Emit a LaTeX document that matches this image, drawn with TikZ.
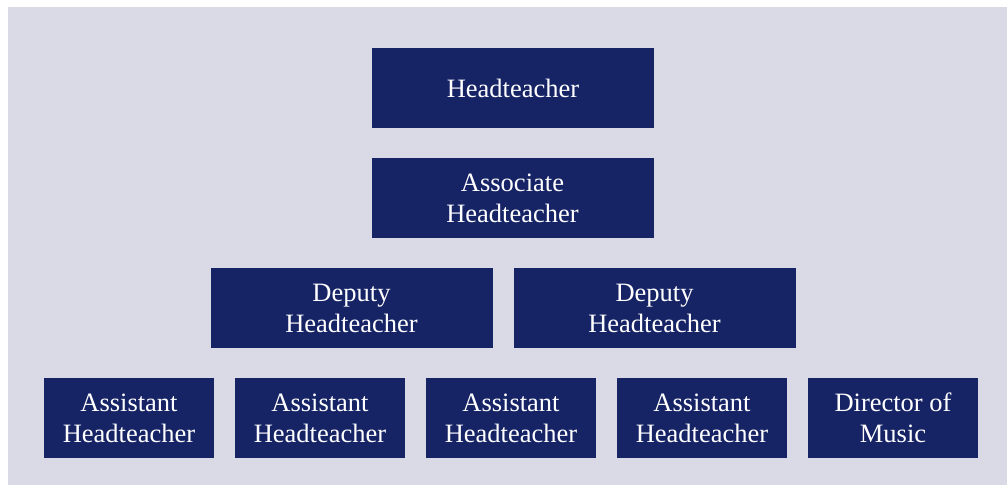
\documentclass[tikz,border=0pt]{standalone}
\usepackage{fontspec}
\setmainfont{Liberation Serif}
\usepackage{xcolor}
\definecolor{navy}{HTML}{162466}
\definecolor{panel}{HTML}{DADAE6}

\begin{document}
\begin{tikzpicture}[x=1pt,y=-1pt,
    role/.style={fill=navy,text=white,align=center,inner sep=0pt,
        minimum height=80pt,font=\fontsize{26.5}{31}\selectfont},
    wide/.style={role,minimum width=282pt},
    narrow/.style={role,minimum width=170pt}]
            % Page and panel
            \useasboundingbox (0,0) rectangle (1007,485);
            \fill[panel] (8,7) rectangle (1007,485);

            % Top levels
            \node[wide] (head) at (513,88) {Headteacher};
            \node[wide] (assoc) at (512.5,198) {Associate\\Headteacher};

            % Deputies
            \node[wide] (deputyA) at (351.5,308) {Deputy\\Headteacher};
            \node[wide] (deputyB) at (654.5,308) {Deputy\\Headteacher};

            % Assistants and music
            \foreach \x [count=\i] in {129,320,511,702}
                \node[narrow] (assist\i) at (\x,418) {Assistant\\Headteacher};
            \node[narrow] (music) at (893,418) {Director of\\Music};
        \end{tikzpicture}
\end{document}
